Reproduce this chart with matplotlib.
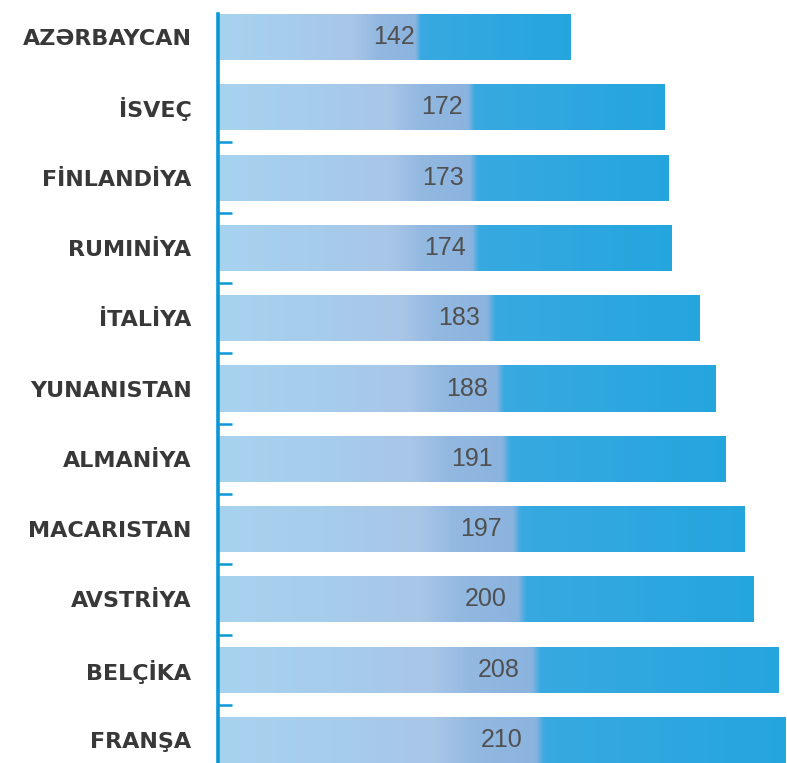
import numpy as np
import matplotlib
matplotlib.use("Agg")
import matplotlib.pyplot as plt
from matplotlib.colors import LinearSegmentedColormap
from matplotlib.patches import Rectangle

countries = ["AZƏRBAYCAN", "İSVEÇ", "FİNLANDİYA", "RUMINİYA", "İTALİYA",
             "YUNANISTAN", "ALMANİYA", "MACARISTAN", "AVSTRİYA", "BELÇİKA", "FRANŞA"]
values = [142, 172, 173, 174, 183, 188, 191, 197, 200, 208, 210]

fig = plt.figure(figsize=(7.87, 7.63), dpi=100)
ax = fig.add_axes([218/787, 0, 1 - 218/787, 749/763])

h = 0.655
xmin, xmax = 30.6, 210.6

cmap = LinearSegmentedColormap.from_list("bar", [
    (0.0, "#a8d3ef"), (0.2, "#a6cdec"), (0.38, "#a9c6e7"), (0.45, "#93b9e1"),
    (0.56, "#8ab3de"), (0.575, "#38a9e1"), (1.0, "#25a5de")])
grad = np.linspace(0, 1, 256).reshape(1, -1)

for i, v in enumerate(values):
    im = ax.imshow(grad, cmap=cmap, aspect="auto", extent=(xmin, v, i + h/2, i - h/2),
                   interpolation="bilinear", zorder=2)
    rect = Rectangle((xmin, i - h/2), v - xmin, h, facecolor="none", edgecolor="none")
    ax.add_patch(rect)
    im.set_clip_path(rect)
    ax.text((xmin + v) / 2, i, str(v), ha="center", va="center", fontsize=18,
            color="#505050", family="Liberation Sans", zorder=3)

ax.set_xlim(xmin, xmax)
ax.set_ylim(len(values) - 1 + h/2, -h/2)

for s in ["top", "right", "bottom"]:
    ax.spines[s].set_visible(False)
ax.spines["left"].set_color("#0b97d6")
ax.spines["left"].set_linewidth(2.6)
ax.set_xticks([])
ax.set_yticks(range(len(values)))
ax.set_yticklabels(countries, fontsize=16, fontweight="bold", color="#383838",
                   family="DejaVu Sans")
ax.tick_params(axis="y", which="major", length=0, pad=19)
ax.set_yticks([i + 0.5 for i in range(1, len(values) - 1)], minor=True)
ax.tick_params(axis="y", which="minor", direction="in", length=10, width=1.8,
               color="#0b97d6")

fig.savefig("out.png", dpi=100)
